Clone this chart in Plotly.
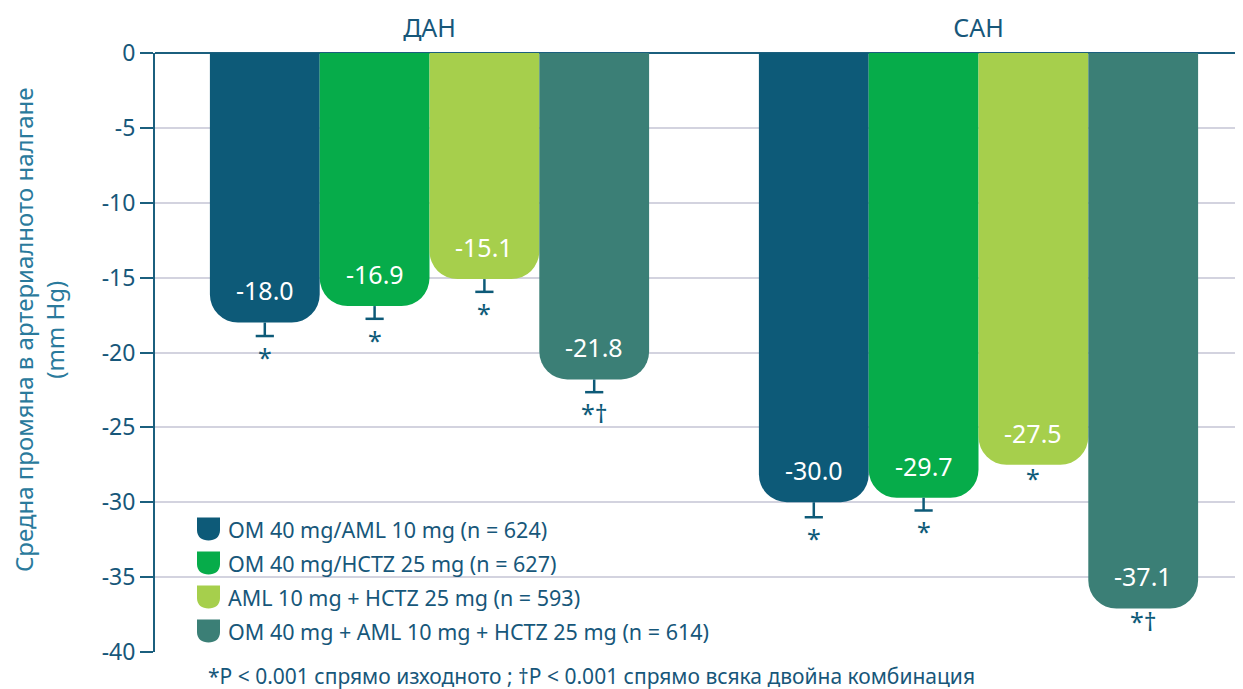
import plotly.graph_objects as go

categories = ["ДАН", "САН"]
series_names = [
    "OM 40 mg/AML 10 mg (n = 624)",
    "OM 40 mg/HCTZ 25 mg (n = 627)",
    "AML 10 mg + HCTZ 25 mg (n = 593)",
    "OM 40 mg + AML 10 mg + HCTZ 25 mg (n = 614)",
]
values = [
    [-18.0, -30.0],
    [-16.9, -29.7],
    [-15.1, -27.5],
    [-21.8, -37.1],
]
errors = [
    [0.9, 1.0],
    [0.85, 0.85],
    [0.85, None],
    [0.85, None],
]
marks = [
    ["*", "*"],
    ["*", "*"],
    ["*", "*"],
    ["*†", "*†"],
]
colors = ["#0d5a78", "#06ac4a", "#a6cf4c", "#3b7f76"]
ytick_vals = [0, -5, -10, -15, -20, -25, -30, -35, -40]
ytick_text = ["0", "-5", "-10", "-15", "-20", "-25", "-30", "-35", "-40"]
footnote = "*P < 0.001 спрямо изходното ; †P < 0.001 спрямо всяка двойна комбинация"
ytitle = "Средна промяна в артериалното налгане<br>(mm Hg)"

FONT = "Noto Sans"
TXT = "#17577a"
ERR = "#0d5a78"
W, H = 1243, 689
OFF = 8  # page body margin
ML, MT = 147, 45
MR = W - (1239 - OFF)
MB = H - (652 - OFF)
plot_w = W - ML - MR
plot_h = H - MT - MB


def sx(x):  # screen px -> paper x
    return (x - OFF - ML) / plot_w


def sy(y):  # screen px -> paper y
    return (H - MB - (y - OFF)) / plot_h


fig = go.Figure()
n = len(series_names)
for i in range(n):
    fig.add_trace(go.Bar(
        x=categories, y=values[i], name=series_names[i],
        marker=dict(color=colors[i], line=dict(width=0)),
        showlegend=False,
    ))

group_w = 0.8
bar_w = group_w / n
for i in range(n):
    xs, ys, ep = [], [], []
    for j, cat in enumerate(categories):
        xo = j - group_w / 2 + bar_w * (i + 0.5)
        v = values[i][j]
        e = errors[i][j]
        if e is not None:
            xs.append(xo)
            ys.append(v - e)
            ep.append(e)
        fig.add_annotation(x=xo, y=v + 2.15, text=f"{v:.1f}", showarrow=False,
                           font=dict(family=FONT, size=25, color="white"),
                           xref="x", yref="y", yanchor="middle")
        ystar = v - (e + 1.4 if e else 0.85)
        fig.add_annotation(x=xo, y=ystar, text=marks[i][j], showarrow=False,
                           font=dict(family=FONT, size=25, color=ERR),
                           xref="x", yref="y", yanchor="middle")
    if xs:
        # lower error bound: stem up to the bar end, cap only at the bottom
        fig.add_trace(go.Scatter(
            x=xs, y=ys, mode="markers", xaxis="x2",
            marker=dict(symbol="line-ew", size=13,
                        line=dict(width=2.5, color=ERR), color=ERR),
            error_y=dict(type="data", symmetric=False, array=ep,
                         arrayminus=[0] * len(ep), color=ERR,
                         thickness=2.5, width=0),
            showlegend=False, hoverinfo="skip",
        ))

# manual legend
row_px = [529, 563, 597, 631]
for i in range(n):
    fig.add_shape(type="path", xref="paper", yref="paper",
                  xsizemode="pixel", ysizemode="pixel",
                  xanchor=sx(197), yanchor=sy(row_px[i]),
                  path="M 0,11.5 L 23,11.5 L 23,-1 C 23,-8 18,-11.5 11.5,-11.5 C 5,-11.5 0,-8 0,-1 Z",
                  fillcolor=colors[i], line=dict(width=0), layer="above")
    fig.add_annotation(x=sx(226), y=sy(row_px[i]), xref="paper", yref="paper",
                       text=series_names[i], showarrow=False, xanchor="left",
                       yanchor="middle",
                       font=dict(family=FONT, size=21.5, color=TXT))

fig.add_annotation(x=sx(591), y=sy(676), xref="paper", yref="paper",
                   text=footnote, showarrow=False,
                   xanchor="center", yanchor="middle",
                   font=dict(family=FONT, size=21, color=TXT))

fig.add_annotation(x=sx(39), y=sy(330), xref="paper", yref="paper",
                   text=ytitle, showarrow=False, textangle=-90,
                   xanchor="center", yanchor="middle",
                   font=dict(family=FONT, size=24, color="#2a7a9c"))

xr = [-0.5, -0.5 + plot_w / 549.0]
fig.update_layout(
    width=W, height=H,
    margin=dict(l=ML, r=MR, t=MT, b=MB),
    paper_bgcolor="white", plot_bgcolor="white",
    barmode="group", bargap=0.2, bargroupgap=0, barcornerradius=28,
    font=dict(family=FONT, color=TXT),
    xaxis=dict(side="top", range=xr, automargin=False,
               showline=False, showgrid=False, ticks="", ticklabelstandoff=10,
               tickfont=dict(family=FONT, size=25, color=TXT)),
    xaxis2=dict(range=xr, overlaying="x", visible=False, automargin=False),
    yaxis=dict(range=[-40, 0], tickvals=ytick_vals, ticktext=ytick_text,
               automargin=False,
               tickfont=dict(family=FONT, size=23, color=TXT),
               showgrid=True, gridcolor="#d3d3df", gridwidth=1.5,
               zeroline=True, zerolinecolor="#1b5f7e", zerolinewidth=2,
               showline=True, linecolor="#1b5f7e", linewidth=2,
               ticks="outside", ticklen=13, tickcolor="#1b5f7e", tickwidth=1.5),
)

fig.write_html("out.html")
